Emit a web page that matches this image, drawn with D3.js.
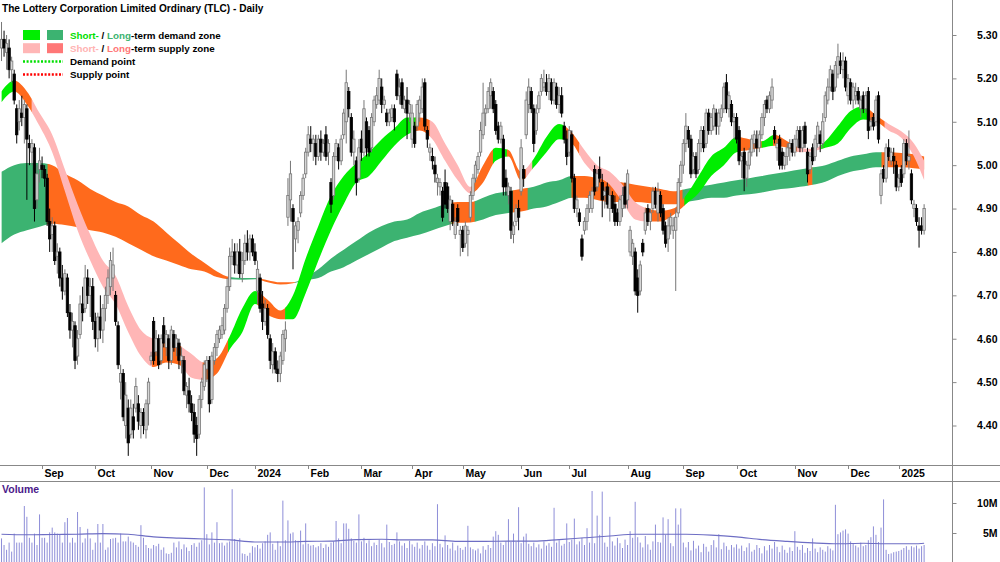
<!DOCTYPE html>
<html>
<head>
<meta charset="utf-8">
<script src="https://cdn.jsdelivr.net/npm/d3@7"></script>
<style>
body { margin: 0; background: #fff; }
svg { display: block; font-family: Arial, "Liberation Sans", sans-serif; }
</style>
</head>
<body>
<div id="chart"></div>
<script>
// Daily candles per month: [open, high, low, close, volume (millions)]
var aug23 = [
[5.27,5.33,5.24,5.29,4.1],[5.29,5.31,5.25,5.27,3.0],[5.26,5.30,5.22,5.28,2.2],[5.27,5.29,5.20,5.22,3.4],
[5.22,5.25,5.19,5.24,1.9],[5.21,5.22,5.14,5.15,4.9],[5.13,5.14,5.05,5.07,3.4],[5.10,5.15,5.08,5.13,3.4],
[5.12,5.16,5.09,5.11,3.4],[5.11,5.15,5.05,5.14,9.5],[5.13,5.14,4.92,5.06,7.7],[5.05,5.07,5.00,5.04,4.2],
[5.03,5.06,5.00,5.05,3.4],[5.04,5.05,4.87,4.90,4.9],[4.92,5.00,4.90,4.98,3.0],[4.99,5.04,4.96,5.01,8.1]];
var sep23 = [
[5.00,5.02,4.97,4.99,4.2],[4.99,5.00,4.95,4.97,4.2],[4.97,4.98,4.86,4.87,3.4],[4.87,4.90,4.80,4.83,5.1],
[4.84,4.88,4.80,4.86,5.9],[4.86,4.87,4.77,4.78,5.1],[4.79,4.82,4.75,4.80,4.9],[4.80,4.81,4.72,4.74,4.7],
[4.74,4.77,4.69,4.71,3.4],[4.71,4.76,4.70,4.75,6.8],[4.74,4.75,4.65,4.66,7.5],[4.66,4.68,4.60,4.62,3.4],
[4.62,4.66,4.58,4.64,4.2],[4.63,4.64,4.53,4.55,3.4],[4.56,4.62,4.54,4.60,8.5],[4.61,4.70,4.60,4.68,6.0],
[4.68,4.72,4.64,4.66,3.4],[4.67,4.77,4.66,4.74,4.1],[4.74,4.76,4.68,4.70,5.7],[4.70,4.74,4.65,4.72,4.1],
[4.72,4.74,4.62,4.64,2.2]];
var oct23 = [
[4.64,4.66,4.58,4.60,3.4],[4.60,4.66,4.57,4.65,6.5],[4.65,4.70,4.60,4.62,3.4],[4.62,4.68,4.59,4.67,6.5],
[4.67,4.72,4.64,4.70,2.2],[4.70,4.76,4.68,4.74,2.6],[4.72,4.80,4.70,4.78,4.0],[4.74,4.81,4.71,4.77,4.1],
[4.70,4.71,4.63,4.64,4.2],[4.63,4.64,4.53,4.54,3.4],[4.50,4.54,4.46,4.52,4.9],[4.52,4.53,4.41,4.42,3.6],
[4.40,4.50,4.37,4.47,3.6],[4.44,4.46,4.33,4.36,4.4],[4.38,4.46,4.37,4.44,3.6],[4.42,4.45,4.37,4.39,3.4],
[4.44,4.51,4.43,4.49,3.0],[4.45,4.47,4.39,4.41,2.7],[4.40,4.44,4.37,4.43,6.3],[4.43,4.44,4.38,4.40,4.2],
[4.39,4.46,4.37,4.45,3.0],[4.45,4.51,4.40,4.50,2.5]];
var nov23 = [
[4.55,4.57,4.54,4.56,2.4],[4.64,4.65,4.54,4.55,3.0],[4.57,4.62,4.56,4.60,2.8],[4.60,4.61,4.53,4.54,3.2],
[4.55,4.61,4.54,4.60,2.2],[4.63,4.65,4.58,4.59,2.6],[4.58,4.62,4.56,4.61,1.6],[4.60,4.61,4.53,4.55,1.5],
[4.55,4.63,4.54,4.62,1.7],[4.61,4.62,4.57,4.58,3.4],[4.58,4.61,4.56,4.60,2.6],[4.59,4.60,4.53,4.55,3.6],
[4.55,4.58,4.52,4.56,2.3],[4.55,4.56,4.47,4.48,3.1],[4.47,4.50,4.44,4.49,2.6],[4.48,4.51,4.43,4.45,2.0],
[4.45,4.47,4.41,4.43,3.0],[4.43,4.45,4.36,4.38,3.3],[4.40,4.42,4.33,4.37,2.7],[4.38,4.47,4.37,4.46,3.4],
[4.46,4.51,4.44,4.50,3.8],[4.49,4.55,4.48,4.54,12.6]];
var dec23 = [
[4.53,4.56,4.50,4.55,4.8],[4.55,4.56,4.43,4.45,3.1],[4.46,4.57,4.45,4.56,5.1],[4.55,4.59,4.54,4.58,3.4],
[4.58,4.62,4.56,4.61,6.8],[4.60,4.63,4.59,4.62,3.3],[4.61,4.65,4.60,4.63,3.4],[4.62,4.68,4.61,4.67,2.9],
[4.67,4.74,4.66,4.72,3.4],[4.72,4.81,4.71,4.79,3.6],[4.79,4.83,4.77,4.80,12.3],[4.80,4.82,4.75,4.77,4.0],
[4.77,4.82,4.75,4.80,3.6],[4.80,4.83,4.74,4.75,4.1],[4.75,4.80,4.73,4.78,1.6],[4.78,4.84,4.77,4.82,1.5],
[4.82,4.85,4.78,4.80,1.2],[4.80,4.84,4.78,4.83,1.7],[4.83,4.84,4.79,4.80,2.8]];
var jan24 = [
[4.80,4.82,4.77,4.78,2.6],[4.71,4.78,4.68,4.76,3.0],[4.74,4.75,4.66,4.67,2.4],[4.68,4.71,4.62,4.64,3.3],
[4.64,4.69,4.63,4.67,3.6],[4.67,4.68,4.60,4.61,4.7],[4.60,4.61,4.53,4.55,5.1],[4.54,4.59,4.52,4.57,3.2],
[4.57,4.58,4.52,4.53,2.2],[4.53,4.55,4.50,4.52,3.6],[4.52,4.57,4.50,4.56,2.8],[4.55,4.62,4.54,4.61,10.4],
[4.60,4.64,4.57,4.62,3.8],[4.88,4.97,4.86,4.93,7.1],[4.92,5.01,4.87,4.98,4.9],[4.90,4.91,4.76,4.87,5.1],
[4.83,4.87,4.80,4.86,3.8],[4.85,4.88,4.82,4.87,3.7],[4.89,4.94,4.88,4.93,5.4],[4.93,4.98,4.92,4.97,3.1],
[4.98,5.04,4.97,5.03,6.6]];
var feb24 = [
[5.03,5.09,5.02,5.07,3.2],[5.06,5.09,5.03,5.05,2.9],[5.05,5.07,5.01,5.06,3.0],[5.05,5.07,5.00,5.02,2.6],
[5.02,5.07,5.01,5.06,2.8],[5.06,5.08,5.01,5.03,3.3],[5.03,5.06,5.02,5.05,2.5],[5.07,5.09,5.01,5.02,3.1],
[5.03,5.06,5.00,5.05,2.7],[4.96,4.97,4.89,4.91,3.4],[4.93,5.03,4.92,5.02,3.6],[5.02,5.06,5.01,5.05,7.0],
[5.04,5.05,4.99,5.01,4.1],[5.01,5.07,5.00,5.06,3.3],[5.07,5.13,5.06,5.12,6.6],[5.10,5.22,5.05,5.19,6.6],
[5.17,5.18,5.11,5.13,5.7],[5.11,5.12,5.02,5.03,4.1],[5.03,5.08,5.00,5.06,3.7],[5.01,5.02,4.93,4.96,3.4],
[4.97,5.06,4.96,5.04,8.1]];
var mar24 = [
[5.06,5.08,5.01,5.03,3.6],[5.03,5.15,5.02,5.13,4.2],[5.10,5.11,5.02,5.04,3.3],[5.08,5.09,5.02,5.03,3.8],
[5.04,5.12,5.03,5.11,2.8],[5.10,5.16,5.09,5.15,3.4],[5.14,5.18,5.13,5.16,3.0],[5.15,5.22,5.14,5.20,3.9],
[5.18,5.20,5.12,5.14,3.3],[5.14,5.16,5.13,5.15,2.6],[5.12,5.13,5.09,5.10,6.4],[5.10,5.13,5.09,5.12,3.5],
[5.11,5.14,5.10,5.13,3.0],[5.13,5.14,5.08,5.10,3.2],[5.21,5.22,5.15,5.16,5.1],[5.16,5.20,5.14,5.18,3.6],
[5.19,5.20,5.13,5.14,2.9],[5.13,5.16,5.12,5.15,3.3],[5.15,5.18,5.06,5.12,2.5],[5.12,5.15,5.10,5.14,3.7]];
var apr24 = [
[5.06,5.14,5.04,5.12,3.1],[5.09,5.10,5.04,5.05,2.7],[5.09,5.15,5.08,5.14,3.4],[5.12,5.16,5.10,5.15,2.4],
[5.13,5.20,5.12,5.18,3.0],[5.19,5.20,5.08,5.09,3.6],[5.08,5.09,5.04,5.06,2.9],[5.03,5.05,5.01,5.04,2.2],
[5.02,5.04,4.99,5.01,3.3],[5.00,5.02,4.96,4.98,2.8],[4.96,4.98,4.93,4.97,9.8],[4.95,4.97,4.93,4.96,3.2],
[4.94,4.95,4.87,4.88,2.6],[4.96,4.99,4.90,4.91,4.6],[4.95,4.96,4.89,4.90,3.0],[4.87,4.93,4.85,4.92,2.4],
[4.91,4.92,4.86,4.87,3.4],[4.84,4.88,4.83,4.87,2.1],[4.90,4.91,4.86,4.87,2.9],[4.84,4.86,4.79,4.85,2.5]];
var may24 = [
[4.85,4.86,4.80,4.81,2.2],[4.82,4.87,4.81,4.86,2.7],[4.84,4.86,4.79,4.85,6.2],[4.88,4.94,4.87,4.93,2.6],
[4.93,4.98,4.92,4.97,2.3],[4.97,5.01,4.96,5.00,2.1],[4.99,5.03,4.98,5.02,2.4],[5.03,5.10,5.02,5.08,1.6],
[5.07,5.19,5.06,5.12,2.8],[5.12,5.14,5.09,5.13,2.2],[5.13,5.18,5.12,5.17,3.0],[5.16,5.20,5.13,5.19,2.5],
[5.17,5.18,5.12,5.13,4.4],[5.14,5.15,5.07,5.08,5.3],[5.09,5.10,5.05,5.06,4.7],[5.06,5.10,5.05,5.09,3.4],
[5.06,5.07,4.93,4.95,3.0],[4.97,4.99,4.93,4.95,3.6],[4.93,4.96,4.91,4.95,7.3],[4.94,4.95,4.83,4.85,3.5],
[4.84,4.87,4.82,4.86,4.9],[4.87,4.91,4.86,4.90,3.5],[4.90,4.92,4.85,4.88,9.3]];
var jun24 = [
[4.94,5.06,4.93,5.04,3.3],[4.99,5.00,4.95,4.97,4.4],[5.07,5.17,5.06,5.15,4.9],[5.14,5.20,5.12,5.18,3.2],
[5.17,5.18,5.12,5.13,2.8],[5.13,5.14,5.03,5.05,3.4],[5.08,5.14,5.07,5.12,2.6],[5.13,5.17,5.12,5.16,3.1],
[5.17,5.21,5.16,5.20,2.4],[5.18,5.22,5.17,5.19,3.6],[5.19,5.21,5.16,5.17,2.9],[5.17,5.21,5.15,5.20,3.3],
[5.19,5.20,5.14,5.15,2.7],[5.15,5.20,5.14,5.19,9.2],[5.18,5.19,5.13,5.14,3.4],[5.14,5.18,5.12,5.16,3.8],
[5.16,5.18,5.11,5.12,2.9],[5.09,5.10,5.05,5.06,3.2],[5.06,5.08,5.00,5.02,6.6]];
var jul24 = [
[5.03,5.09,5.02,5.08,3.5],[5.07,5.08,4.96,4.97,3.9],[4.97,4.98,4.89,4.90,7.4],[4.90,4.93,4.88,4.92,3.1],
[4.89,4.90,4.86,4.87,3.6],[4.83,4.84,4.78,4.79,4.2],[4.85,4.88,4.84,4.87,3.0],[4.87,4.91,4.85,4.90,5.8],
[4.90,4.94,4.89,4.93,3.4],[4.90,4.95,4.89,4.94,12.0],[4.99,5.00,4.93,4.94,3.3],[4.95,4.99,4.94,4.98,7.9],
[4.99,5.02,4.96,4.97,4.7],[4.96,4.98,4.88,4.92,11.9],[4.93,4.95,4.90,4.94,3.4],[4.95,4.96,4.90,4.91,2.7],
[4.90,4.95,4.87,4.93,7.7],[4.93,4.94,4.89,4.90,3.6],[4.91,4.93,4.86,4.87,2.9],[4.89,4.90,4.86,4.87,4.2],
[4.87,4.93,4.86,4.92,3.3],[4.90,4.95,4.88,4.93,2.5],[4.95,4.96,4.90,4.91,3.9]];
var aug24 = [
[4.92,4.99,4.90,4.98,3.0],[4.80,4.86,4.79,4.85,5.3],[4.79,4.83,4.77,4.82,4.2],[4.80,4.81,4.70,4.71,10.2],
[4.74,4.76,4.66,4.70,4.3],[4.71,4.78,4.70,4.77,3.4],[4.82,4.83,4.79,4.80,2.6],[4.85,4.90,4.84,4.89,4.5],
[4.90,4.91,4.86,4.87,3.1],[4.87,4.90,4.85,4.89,2.2],[4.90,4.95,4.89,4.94,3.6],[4.94,4.95,4.90,4.91,6.4],
[4.89,4.96,4.87,4.94,3.5],[4.93,4.94,4.88,4.89,3.4],[4.90,4.91,4.84,4.85,7.6],[4.86,4.87,4.81,4.82,4.7],
[4.83,4.88,4.80,4.86,7.3],[4.86,4.89,4.84,4.88,3.3],[4.85,4.88,4.83,4.86,2.8],[4.85,4.90,4.71,4.88,9.1],
[4.89,4.97,4.88,4.96,6.4],[4.96,5.01,4.95,5.00,9.1]];
var sep24 = [
[5.00,5.06,4.98,5.05,3.4],[5.05,5.12,5.03,5.09,2.6],[5.08,5.09,5.04,5.06,3.5],[5.06,5.07,4.97,4.98,2.1],
[4.99,5.03,4.98,5.02,3.7],[5.02,5.03,4.97,4.98,2.4],[4.99,5.06,4.98,5.05,2.9],[5.05,5.09,5.03,5.08,1.8],
[5.08,5.09,5.03,5.04,3.2],[5.05,5.13,5.04,5.12,2.7],[5.12,5.13,5.07,5.08,1.9],[5.08,5.12,5.07,5.11,3.0],
[5.09,5.14,5.08,5.13,3.8],[5.12,5.13,5.07,5.09,2.6],[5.09,5.13,5.07,5.12,4.8],[5.11,5.14,5.10,5.13,2.3],
[5.13,5.19,5.12,5.18,3.4],[5.19,5.21,5.12,5.13,2.8],[5.13,5.17,5.11,5.16,2.2],[5.14,5.15,5.09,5.10,3.0],
[5.10,5.12,5.06,5.11,2.6]];
var oct24 = [
[5.11,5.12,5.05,5.06,3.1],[5.08,5.09,5.00,5.01,2.4],[5.01,5.03,4.97,5.02,2.9],[5.03,5.04,4.94,4.97,2.0],
[4.97,5.01,4.95,5.00,2.6],[5.00,5.04,4.99,5.03,3.3],[5.03,5.07,5.02,5.06,1.9],[5.05,5.08,5.03,5.07,2.2],
[5.06,5.08,5.02,5.04,3.0],[5.04,5.08,5.03,5.07,2.5],[5.07,5.12,5.06,5.11,1.6],[5.11,5.15,5.09,5.14,2.8],
[5.15,5.16,5.12,5.13,2.1],[5.13,5.17,5.12,5.16,3.0],[5.15,5.20,5.13,5.18,2.4],[5.08,5.09,5.05,5.06,3.5],
[5.04,5.06,5.01,5.05,2.7],[5.06,5.07,4.99,5.00,1.8],[5.03,5.04,4.99,5.00,2.9],[5.00,5.03,4.99,5.02,2.2],
[5.02,5.05,5.00,5.04,1.7],[5.04,5.06,5.01,5.05,2.6],[5.05,5.06,5.02,5.03,2.0]];
var nov24 = [
[5.03,5.07,5.02,5.06,5.3],[5.06,5.09,5.04,5.08,2.7],[5.08,5.09,5.03,5.04,2.2],[5.04,5.09,5.03,5.08,3.0],
[5.09,5.10,5.04,5.05,1.7],[5.03,5.04,4.96,4.98,2.5],[4.99,5.03,4.98,5.02,2.0],[5.04,5.05,5.00,5.01,4.1],
[5.02,5.07,5.01,5.06,2.4],[5.05,5.10,5.04,5.09,1.8],[5.07,5.08,5.03,5.05,2.6],[5.05,5.12,5.04,5.10,2.2],
[5.11,5.17,5.10,5.16,1.9],[5.15,5.20,5.14,5.18,2.8],[5.18,5.23,5.17,5.22,2.4],[5.21,5.22,5.15,5.17,2.1],
[5.18,5.24,5.17,5.23,9.7],[5.21,5.28,5.20,5.25,4.8],[5.24,5.26,5.21,5.23,5.1],[5.22,5.26,5.20,5.24,5.4],
[5.24,5.25,5.17,5.18,5.6]];
var dec24 = [
[5.16,5.21,5.14,5.20,4.9],[5.19,5.20,5.14,5.15,3.6],[5.15,5.19,5.13,5.18,3.2],[5.16,5.19,5.14,5.17,2.9],
[5.17,5.18,5.14,5.15,2.6],[5.13,5.16,5.11,5.15,3.4],[5.16,5.17,5.12,5.13,2.8],[5.13,5.17,5.12,5.16,3.0],
[5.17,5.18,5.06,5.08,3.8],[5.09,5.11,5.08,5.10,4.3],[5.11,5.12,5.08,5.09,6.1],[5.10,5.16,5.09,5.15,4.7],
[5.16,5.17,5.05,5.06,3.5],[4.93,4.99,4.91,4.98,5.9],[4.99,5.00,4.96,4.97,10.6],[4.97,5.05,4.96,5.04,2.2],
[5.04,5.06,5.01,5.02,1.5],[5.01,5.04,5.00,5.03,1.6],[5.02,5.04,4.98,5.01,1.8],[5.00,5.01,4.94,4.95,1.9]];
var jan25 = [
[4.95,4.98,4.94,4.97,2.0],[4.99,5.00,4.95,4.96,2.2],[4.98,5.06,4.97,5.05,2.5],[5.05,5.06,5.00,5.01,2.8],
[5.01,5.08,4.99,5.02,2.2],[4.98,4.99,4.91,4.92,2.8],[4.90,4.92,4.88,4.91,2.6],[4.90,4.91,4.86,4.87,2.9],
[4.86,4.88,4.81,4.85,2.4],[4.86,4.88,4.84,4.85,2.8],[4.85,4.91,4.84,4.90,3.0]];

var monthData = [aug23, sep23, oct23, nov23, dec23, jan24, feb24, mar24, apr24, may24, jun24,
                 jul24, aug24, sep24, oct24, nov24, dec24, jan25];
var monthLabels = ['Sep','Oct','Nov','Dec','2024','Feb','Mar','Apr','May','Jun','Jul','Aug',
                   'Sep','Oct','Nov','Dec','2025'];
var priceTicks = [4.40, 4.50, 4.60, 4.70, 4.80, 4.90, 5.00, 5.10, 5.20, 5.30];
var volTicks = [5, 10];

// Trend zones, read every 5 trading days (last at day 364)
var shortHi = [5.17,5.195,5.17,5.12,5.07,4.99,4.91,4.84,4.78,4.745,4.675,4.62,4.60,4.595,4.585,4.565,4.545,4.555,
  4.605,4.67,4.71,4.69,4.665,4.70,4.785,4.86,4.93,4.975,5.005,5.03,5.06,5.085,5.11,5.11,5.10,5.05,5.00,4.95,
  5.00,5.04,5.035,4.985,5.015,5.065,5.095,5.075,5.035,5.00,4.985,4.955,4.915,4.90,4.895,4.90,4.93,4.975,5.02,
  5.04,5.065,5.06,5.055,5.07,5.055,5.04,5.037,5.055,5.09,5.125,5.135,5.115,5.095,5.078,5.05,5.01];
var shortLo = [5.145,5.17,5.14,5.09,5.03,4.94,4.85,4.78,4.72,4.68,4.615,4.56,4.535,4.545,4.54,4.51,4.505,4.52,
  4.575,4.615,4.68,4.655,4.645,4.645,4.705,4.78,4.85,4.91,4.96,4.975,5.01,5.045,5.07,5.08,5.06,5.01,4.965,4.935,
  4.96,5.01,5.02,4.965,4.995,5.03,5.06,5.05,5.005,4.975,4.955,4.915,4.875,4.87,4.87,4.885,4.91,4.935,4.975,
  5.00,5.03,5.035,5.04,5.045,5.04,5.03,5.032,5.04,5.05,5.085,5.105,5.10,5.08,5.063,5.02,4.966];
var longHi = [4.985,5.00,5.005,5.005,5.00,4.98,4.965,4.945,4.93,4.915,4.905,4.885,4.87,4.845,4.82,4.795,4.775,4.755,
  4.742,4.74,4.74,4.735,4.73,4.73,4.742,4.76,4.785,4.805,4.825,4.845,4.86,4.87,4.875,4.89,4.90,4.91,4.915,4.915,
  4.925,4.935,4.94,4.945,4.95,4.96,4.965,4.975,4.975,4.97,4.965,4.96,4.955,4.95,4.945,4.94,4.945,4.95,4.955,
  4.96,4.965,4.97,4.975,4.98,4.985,4.99,4.995,5.00,5.01,5.02,5.025,5.03,5.03,5.028,5.025,5.02];
var longLo = [4.82,4.84,4.85,4.858,4.865,4.862,4.857,4.85,4.845,4.835,4.82,4.805,4.79,4.78,4.77,4.76,4.755,4.742,
  4.737,4.736,4.737,4.73,4.725,4.728,4.735,4.74,4.755,4.765,4.78,4.795,4.81,4.825,4.833,4.84,4.85,4.86,4.867,4.868,
  4.875,4.885,4.89,4.893,4.90,4.905,4.915,4.925,4.925,4.92,4.915,4.915,4.915,4.913,4.91,4.91,4.915,4.92,4.925,
  4.925,4.93,4.933,4.937,4.943,4.946,4.95,4.955,4.962,4.975,4.985,4.99,4.995,4.995,4.995,4.993,4.99];
// colour runs: [first trading day, zone]
var shortRuns = [[0,'sDemand'],[5,'supply'],[12,'sSupply'],[59.5,'supply'],[71,'sSupply'],[79.5,'supply'],
  [89.5,'sDemand'],[101,'supply'],[112,'sDemand'],[163.5,'supply'],[169,'sSupply'],[185.5,'supply'],
  [194,'sDemand'],[199.5,'supply'],[207,'sSupply'],[209.5,'sDemand'],[222.5,'supply'],[228,'sSupply'],
  [254,'supply'],[269.5,'sDemand'],[291,'supply'],[300,'sDemand'],[304.5,'supply'],[314,'sSupply'],
  [323.5,'sDemand'],[342.5,'supply'],[348.5,'sSupply']];
var longRuns = [[0,'lDemand'],[18.3,'supply'],[90,'lDemand'],[100.8,'supply'],[115.8,'lDemand'],
  [177.7,'supply'],[186.8,'lDemand'],[201.8,'supply'],[207.7,'lDemand'],[225,'supply'],[268.8,'lDemand'],
  [318.2,'supply'],[320,'lDemand'],[347.3,'supply']];
// volume average, read every 10 trading days (last at day 364)
var volAvg = [4.8,4.7,4.75,4.8,4.9,4.8,4.35,4.15,4.0,3.85,3.5,3.5,3.6,3.65,3.9,3.95,3.85,3.85,3.6,3.6,
  3.65,3.65,3.9,4.2,4.5,4.8,4.8,4.8,4.65,4.35,3.9,3.6,3.35,3.2,3.3,3.2,3.2,3.3];

var zoneColors = {sDemand: '#00ee00', lDemand: '#3cb371', sSupply: '#ffb6b6', supply: '#ff6a1c'};

// Flatten months into one list of candles
var candles = [];
var monthStarts = [];
monthData.forEach(function(m, k) {
	if (k > 0) monthStarts.push(candles.length);
	m.forEach(function(d) {
		candles.push({i: candles.length, o: d[0], h: d[1], l: d[2], c: d[3], v: d[4]});
	});
});
var lastDay = candles.length - 1;
var bandDays = d3.range(0, lastDay, 5).concat([lastDay]);
var avgDays = d3.range(0, lastDay, 10).concat([lastDay]);

var fullWidth = 1000, fullHeight = 562;
var plotRight = 952, priceBottom = 465, volTop = 481;

var svg = d3.select('#chart').append('svg')
	.attr('width', fullWidth)
	.attr('height', fullHeight);
var defs = svg.append('defs');

var x = d3.scaleLinear().domain([-0.6, 375]).range([0, plotRight]);
var y = d3.scaleLinear().domain([4.4, 5.3]).range([425.5, 35]);
var yv = d3.scaleLinear().domain([0, 10]).range([563, 503]);

defs.append('clipPath').attr('id', 'priceClip').append('rect')
	.attr('x', 0).attr('y', 0).attr('width', plotRight).attr('height', priceBottom);
defs.append('clipPath').attr('id', 'volClip').append('rect')
	.attr('x', 0).attr('y', volTop).attr('width', plotRight).attr('height', fullHeight - volTop);

var price = svg.append('g').attr('clip-path', 'url(#priceClip)');

// Zones: area between the two edges, coloured run by run
function drawBand(hi, lo, runs, name) {
	var area = d3.area()
		.x(function(d, i) { return x(bandDays[i]); })
		.y0(function(d, i) { return y(lo[i]); })
		.y1(function(d) { return y(d); })
		.curve(d3.curveMonotoneX);
	runs.forEach(function(r, k) {
		var end = k < runs.length - 1 ? runs[k + 1][0] : lastDay + 1;
		var id = name + k;
		defs.append('clipPath').attr('id', id).append('rect')
			.attr('x', x(r[0]) - 0.3).attr('y', 0)
			.attr('width', x(end) - x(r[0]) + 0.6).attr('height', priceBottom);
		price.append('g').attr('clip-path', 'url(#' + id + ')')
			.append('path').datum(hi)
			.attr('d', area)
			.attr('fill', zoneColors[r[1]]);
	});
}
drawBand(longHi, longLo, longRuns, 'lz');
drawBand(shortHi, shortLo, shortRuns, 'sz');

// Candles: hollow grey when up, solid black when down
price.selectAll('line.wick')
	.data(candles)
	.enter()
	.append('line')
	.attr('class', 'wick')
	.attr('x1', function(d) { return x(d.i); })
	.attr('x2', function(d) { return x(d.i); })
	.attr('y1', function(d) { return y(d.h); })
	.attr('y2', function(d) { return y(d.l); })
	.attr('stroke', function(d) { return d.c >= d.o ? '#777' : '#000'; })
	.attr('stroke-width', 1);

price.selectAll('rect.body')
	.data(candles)
	.enter()
	.append('rect')
	.attr('class', 'body')
	.attr('x', function(d) { return x(d.i) - 1.2; })
	.attr('y', function(d) { return y(Math.max(d.o, d.c)); })
	.attr('width', 2.4)
	.attr('height', function(d) { return Math.max(1, Math.abs(y(d.o) - y(d.c))); })
	.attr('fill', function(d) { return d.c >= d.o ? '#d6d6d6' : '#000'; })
	.attr('stroke', function(d) { return d.c >= d.o ? '#777' : '#000'; })
	.attr('stroke-width', 0.8);

// Volume
var vol = svg.append('g').attr('clip-path', 'url(#volClip)');
vol.selectAll('line')
	.data(candles)
	.enter()
	.append('line')
	.attr('x1', function(d) { return x(d.i); })
	.attr('x2', function(d) { return x(d.i); })
	.attr('y1', yv(0))
	.attr('y2', function(d) { return yv(d.v); })
	.attr('stroke', '#8e8ed8')
	.attr('stroke-width', 1);

vol.append('path')
	.datum(volAvg)
	.attr('d', d3.line()
		.x(function(d, i) { return x(avgDays[i]); })
		.y(function(d) { return yv(d); })
		.curve(d3.curveMonotoneX))
	.attr('fill', 'none')
	.attr('stroke', '#6e6ec4')
	.attr('stroke-width', 1.1);

// Frame lines
svg.append('line').attr('x1', plotRight + 0.5).attr('x2', plotRight + 0.5)
	.attr('y1', 0).attr('y2', fullHeight).attr('stroke', '#888').attr('stroke-width', 1);
[priceBottom, volTop].forEach(function(yy) {
	svg.append('line').attr('x1', 0).attr('x2', fullWidth)
		.attr('y1', yy + 0.5).attr('y2', yy + 0.5).attr('stroke', '#888').attr('stroke-width', 1);
});

// Price axis
var yAxis = svg.append('g')
	.attr('transform', 'translate(' + (plotRight + 0.5) + ',0)')
	.call(d3.axisRight(y).tickValues(priceTicks).tickSize(4).tickFormat(d3.format('.2f')));
yAxis.select('.domain').remove();
yAxis.selectAll('line').attr('stroke', '#888');
yAxis.selectAll('text')
	.attr('x', 45).attr('text-anchor', 'end')
	.attr('font-size', 10.5).attr('font-weight', 'bold').attr('fill', '#000')
	.attr('font-family', 'Arial, "Liberation Sans", sans-serif');

// Volume axis
var vAxis = svg.append('g')
	.attr('transform', 'translate(' + (plotRight + 0.5) + ',0)')
	.call(d3.axisRight(yv).tickValues(volTicks).tickSize(4).tickFormat(function(d) { return d + 'M'; }));
vAxis.select('.domain').remove();
vAxis.selectAll('line').attr('stroke', '#888');
vAxis.selectAll('text')
	.attr('x', 45).attr('text-anchor', 'end')
	.attr('font-size', 10.5).attr('font-weight', 'bold').attr('fill', '#000')
	.attr('font-family', 'Arial, "Liberation Sans", sans-serif');

// Month axis
var months = svg.append('g');
monthStarts.forEach(function(s, k) {
	var xx = Math.round(x(s)) + 0.5;
	months.append('line').attr('x1', xx).attr('x2', xx)
		.attr('y1', priceBottom).attr('y2', priceBottom + 4).attr('stroke', '#888');
	months.append('text').attr('x', xx + 2).attr('y', 477)
		.attr('font-size', 10.5).attr('font-weight', 'bold')
		.text(monthLabels[k]);
});

// Title, legend, volume label
svg.append('text').attr('x', 2).attr('y', 12)
	.attr('font-size', 10.1).attr('font-weight', 'bold')
	.text('The Lottery Corporation Limited Ordinary (TLC) - Daily');

var legend = svg.append('g').attr('font-size', 9.8).attr('font-weight', 'bold');
var legendRows = [
	{sw: ['sDemand', 'lDemand'], parts: [['Short-', '#00e000'], [' / ', '#000'], ['Long', '#3cb371'], ['-term demand zone', '#000']]},
	{sw: ['sSupply', 'lSupply'], parts: [['Short-', '#ffb3b3'], [' / ', '#000'], ['Long', '#ff7777'], ['-term supply zone', '#000']]},
	{dots: '#00e000', parts: [['Demand point', '#000']]},
	{dots: '#ff0000', parts: [['Supply point', '#000']]}
];
var swatchColors = {sDemand: '#00ee00', lDemand: '#3cb371', sSupply: '#ffb6b6', lSupply: '#ff7777'};
legendRows.forEach(function(r, k) {
	var cy = 35 + k * 13.2;
	if (r.sw) {
		legend.append('rect').attr('x', 23).attr('y', cy - 5).attr('width', 17).attr('height', 10)
			.attr('fill', swatchColors[r.sw[0]]);
		legend.append('rect').attr('x', 47).attr('y', cy - 5).attr('width', 16).attr('height', 10)
			.attr('fill', swatchColors[r.sw[1]]);
	} else {
		legend.append('line').attr('x1', 23).attr('x2', 63).attr('y1', cy).attr('y2', cy)
			.attr('stroke', r.dots).attr('stroke-width', 2.5).attr('stroke-dasharray', '2,1.6');
	}
	var t = legend.append('text').attr('x', 70).attr('y', cy + 3.6);
	r.parts.forEach(function(p) {
		t.append('tspan').attr('fill', p[1]).text(p[0]);
	});
});

svg.append('text').attr('x', 2).attr('y', 493)
	.attr('font-size', 10.5).attr('font-weight', 'bold').attr('fill', '#4b1a8a')
	.text('Volume');
</script>
</body>
</html>
